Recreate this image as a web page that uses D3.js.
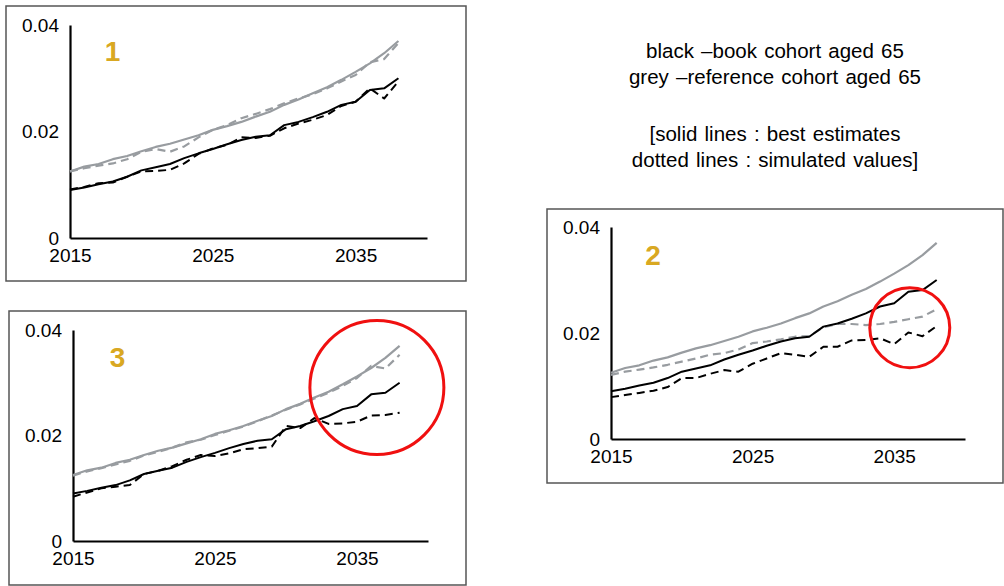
<!DOCTYPE html>
<html>
<head>
<meta charset="utf-8">
<script src="https://cdn.jsdelivr.net/npm/d3@7"></script>
<style>
  html, body { margin: 0; padding: 0; background: #fff; }
  svg { display: block; font-family: "Liberation Sans", Arial, Helvetica, sans-serif; }
</style>
</head>
<body>
<svg id="chart" width="1004" height="586"></svg>
<script>
// ---------- DATA ----------
const years = d3.range(2015, 2039); // 2015..2038
const xTicks = [2015, 2025, 2035];
const yTicks = [0, 0.02, 0.04];
const yTickLabels = ["0", "0.02", "0.04"];

// best estimates (same in every panel)
const bookBest = [0.0090, 0.0095, 0.0101, 0.0106, 0.0115, 0.0127, 0.0133, 0.0139, 0.0150, 0.0159,
                  0.0167, 0.0176, 0.0184, 0.0190, 0.0193, 0.0212, 0.0218, 0.0227, 0.0237, 0.0250,
                  0.0256, 0.0278, 0.0281, 0.0300];
const refBest  = [0.0125, 0.0134, 0.0139, 0.0148, 0.0154, 0.0163, 0.0171, 0.0177, 0.0185, 0.0193,
                  0.0203, 0.0210, 0.0218, 0.0228, 0.0237, 0.0250, 0.0260, 0.0272, 0.0283, 0.0297,
                  0.0312, 0.0328, 0.0347, 0.0370];

// simulated values, panel 1
const bookSim1 = [0.0091, 0.0096, 0.0103, 0.0104, 0.0115, 0.0125, 0.0126, 0.0128, 0.0140, 0.0158,
                  0.0168, 0.0175, 0.0189, 0.0188, 0.0192, 0.0206, 0.0215, 0.0222, 0.0231, 0.0248,
                  0.0256, 0.0281, 0.0262, 0.0294];
const refSim1  = [0.0125, 0.0131, 0.0136, 0.0140, 0.0148, 0.0162, 0.0167, 0.0162, 0.0172, 0.0189,
                  0.0203, 0.0212, 0.0225, 0.0233, 0.0242, 0.0253, 0.0262, 0.0270, 0.0281, 0.0294,
                  0.0306, 0.0330, 0.0336, 0.0366];

// simulated values, panel 2
const bookSim2 = [0.0079, 0.0083, 0.0087, 0.0091, 0.0098, 0.0115, 0.0115, 0.0123, 0.0130, 0.0127,
                  0.0142, 0.0152, 0.0162, 0.0159, 0.0155, 0.0174, 0.0174, 0.0186, 0.0187, 0.0190,
                  0.0179, 0.0201, 0.0194, 0.0213];
const refSim2  = [0.0121, 0.0127, 0.0131, 0.0135, 0.0140, 0.0146, 0.0152, 0.0159, 0.0162, 0.0169,
                  0.0181, 0.0184, 0.0188, 0.0193, 0.0194, 0.0211, 0.0217, 0.0217, 0.0215, 0.0217,
                  0.0221, 0.0226, 0.0231, 0.0245];

// simulated values, panel 3
const bookSim3 = [0.0084, 0.0092, 0.0100, 0.0103, 0.0106, 0.0127, 0.0133, 0.0142, 0.0154, 0.0163,
                  0.0161, 0.0166, 0.0174, 0.0176, 0.0179, 0.0218, 0.0214, 0.0233, 0.0222, 0.0223,
                  0.0226, 0.0238, 0.0239, 0.0243];
const refSim3  = [0.0124, 0.0132, 0.0138, 0.0145, 0.0152, 0.0162, 0.0169, 0.0177, 0.0187, 0.0192,
                  0.0201, 0.0209, 0.0217, 0.0227, 0.0238, 0.0249, 0.0259, 0.0270, 0.0281, 0.0294,
                  0.0309, 0.0332, 0.0327, 0.0353];

const legendLines = ["black \u2013book cohort aged 65", "grey \u2013reference cohort aged 65",
                     "[solid lines : best estimates", "dotted lines : simulated values]"];

// ---------- LAYOUT ----------
const GOLD = "#D9A822", GREY = "#989CA0", RED = "#F01010";
const panels = [
  { label: "1", box: [6, 6, 466, 281], x: [70, 427], y: [238, 25], lab: [112.5, 61],
    bookSim: bookSim1, refSim: refSim1, circle: null },
  { label: "3", box: [9, 311, 466, 585], x: [73, 428], y: [541, 330], lab: [117.5, 367],
    bookSim: bookSim3, refSim: refSim3, circle: [2036.4, 0.0291, 67] },
  { label: "2", box: [547, 209, 1003, 483], x: [611, 965], y: [439, 227], lab: [653, 265],
    bookSim: bookSim2, refSim: refSim2, circle: [2036.1, 0.0210, 40] }
];

const svg = d3.select("#chart");

panels.forEach(p => {
  const g = svg.append("g");
  g.append("rect")
    .attr("x", p.box[0]).attr("y", p.box[1])
    .attr("width", p.box[2] - p.box[0]).attr("height", p.box[3] - p.box[1])
    .attr("fill", "none").attr("stroke", "#555").attr("stroke-width", 1.5);

  const x = d3.scaleLinear().domain([2015, 2040]).range(p.x);
  const y = d3.scaleLinear().domain([0, 0.04]).range(p.y);

  const xAxis = g.append("g").attr("transform", `translate(0,${p.y[0]})`)
    .call(d3.axisBottom(x).tickValues(xTicks).tickFormat(d3.format("d"))
      .tickSizeInner(0).tickSizeOuter(0).tickPadding(11));
  const yAxis = g.append("g").attr("transform", `translate(${p.x[0]},0)`)
    .call(d3.axisLeft(y).tickValues(yTicks).tickFormat((d, i) => yTickLabels[i])
      .tickSizeInner(0).tickSizeOuter(0).tickPadding(11));
  [xAxis, yAxis].forEach(a => {
    a.select(".domain").attr("stroke", "#000").attr("stroke-width", 2.2);
    a.selectAll("text").attr("font-size", 19).attr("fill", "#000")
      .attr("font-family", "'Liberation Sans', Arial, sans-serif");
  });

  const line = d3.line().x((d, i) => x(years[i])).y(d => y(d));
  const series = [
    { v: refBest, c: GREY, dash: null, w: 2.2 },
    { v: p.refSim, c: GREY, dash: "8,5", w: 2.2 },
    { v: p.bookSim, c: "#000", dash: "8,5", w: 2 },
    { v: bookBest, c: "#000", dash: null, w: 2 }
  ];
  series.forEach(s => {
    g.append("path").datum(s.v).attr("d", line)
      .attr("fill", "none").attr("stroke", s.c).attr("stroke-width", s.w)
      .attr("stroke-dasharray", s.dash).attr("stroke-linejoin", "round");
  });

  g.append("text").attr("x", p.lab[0]).attr("y", p.lab[1])
    .attr("text-anchor", "middle").attr("font-size", 28).attr("font-weight", "bold")
    .attr("fill", GOLD).text(p.label);

  if (p.circle) {
    g.append("circle").attr("cx", x(p.circle[0])).attr("cy", y(p.circle[1]))
      .attr("r", p.circle[2]).attr("fill", "none").attr("stroke", RED).attr("stroke-width", 3);
  }
});

const baselines = [58, 84, 141, 167];
svg.append("g").selectAll("text").data(legendLines).join("text")
  .attr("x", 775).attr("y", (d, i) => baselines[i])
  .attr("text-anchor", "middle").attr("font-size", 20.5).attr("word-spacing", 1.5)
  .attr("fill", "#000")
  .text(d => d);
</script>
</body>
</html>
